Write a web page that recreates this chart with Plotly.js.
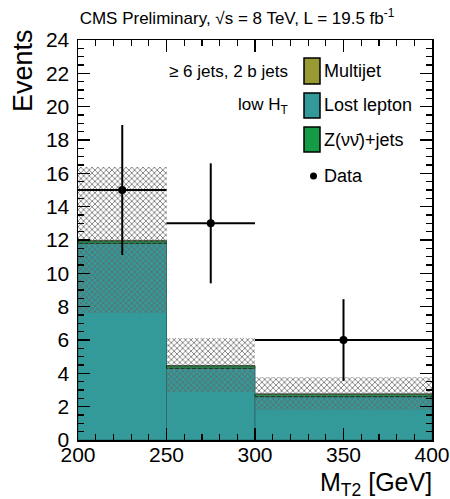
<!DOCTYPE html>
<html>
<head>
<meta charset="utf-8">
<script src="https://cdn.plot.ly/plotly-3.0.1.min.js"></script>
<style>html,body{margin:0;padding:0;background:#fff;}#chart{width:450px;height:499px;}</style>
</head>
<body>
<div id="chart"></div>
<script>
// ---- data ----
const binCenters = [225, 275, 350];
const binWidths = [50, 50, 100];
const lostLepton = [11.8, 4.3, 2.6];
const zinv = [0.15, 0.15, 0.15];
const multijet = [0.03, 0.02, 0.01];
const bandLow = [7.6, 2.9, 1.8];
const bandHigh = [16.4, 6.1, 3.8];
const dataX = [225, 275, 350];
const dataY = [15, 13, 6];
const dataErr = [3.9, 3.6, 2.45];
const dataXErr = [25, 25, 50];

const F = '"Liberation Sans", Arial, Helvetica, sans-serif';

const lostBase = lostLepton.map(() => 0);
const zStart = lostLepton.slice();
const mjStart = lostLepton.map((v, i) => v + zinv[i]);
const bandSize = bandHigh.map((h, i) => h - bandLow[i]);

const traces = [
  {type: 'bar', name: 'Lost lepton', x: binCenters, y: lostLepton, base: lostBase, width: binWidths,
   marker: {color: '#339999', line: {color: '#2a6e6e', width: 1}}, showlegend: false, hoverinfo: 'skip'},
  {type: 'bar', name: 'Z(νν̄)+jets', x: binCenters, y: zinv, base: zStart, width: binWidths,
   marker: {color: '#159a45', line: {color: '#0b3318', width: 1}}, showlegend: false, hoverinfo: 'skip'},
  {type: 'bar', name: 'Multijet', x: binCenters, y: multijet, base: mjStart, width: binWidths,
   marker: {color: '#999933', line: {color: '#333', width: 0.5}}, showlegend: false, hoverinfo: 'skip'},
  {type: 'bar', name: 'Uncertainty', x: binCenters, y: bandSize, base: bandLow, width: binWidths,
   marker: {color: 'rgba(0,0,0,0)', line: {width: 0},
            pattern: {shape: 'x', size: 4, solidity: 0.35, fgcolor: '#666', bgcolor: 'rgba(0,0,0,0)'}},
   showlegend: false, hoverinfo: 'skip'},
  {type: 'scatter', mode: 'markers', name: 'Data', x: dataX, y: dataY,
   marker: {color: '#000', size: 8},
   error_y: {type: 'data', array: dataErr, color: '#000', thickness: 2, width: 0},
   error_x: {type: 'data', array: dataXErr, color: '#000', thickness: 2, width: 0},
   showlegend: false}
];

// plot area in pixels: x 78..432, y 40..440
const PL = 78, PR = 432, PT = 40, PB = 440;
const px = (x) => (x - PL) / (PR - PL);
const py = (y) => (PB - y) / (PB - PT);

const legendItems = [
  {label: 'Multijet', color: '#999933', y0: 58, y1: 84},
  {label: 'Lost lepton', color: '#339999', y0: 93, y1: 118},
  {label: 'Z(νν̄)+jets', color: '#159a45', y0: 127, y1: 152}
];

const shapes = legendItems.map(it => ({
  type: 'rect', xref: 'paper', yref: 'paper',
  x0: px(304), x1: px(320), y0: py(it.y1), y1: py(it.y0),
  fillcolor: it.color, line: {color: '#000', width: 1.5}
}));
shapes.push({type: 'circle', xref: 'paper', yref: 'paper',
  x0: px(310), x1: px(317), y0: py(179.5), y1: py(172.5), fillcolor: '#000', line: {color: '#000', width: 0}});

const annotations = [];
legendItems.forEach(it => annotations.push({
  xref: 'paper', yref: 'paper', x: px(322), y: py((it.y0 + it.y1) / 2),
  xanchor: 'left', yanchor: 'middle', text: it.label, showarrow: false,
  font: {family: F, size: 18, color: '#000'}
}));
annotations.push({xref: 'paper', yref: 'paper', x: px(322), y: py(176), xanchor: 'left', yanchor: 'middle',
  text: 'Data', showarrow: false, font: {family: F, size: 18, color: '#000'}});
annotations.push({xref: 'paper', yref: 'paper', x: px(290), y: py(71), xanchor: 'right', yanchor: 'middle',
  text: '≥ 6 jets, 2 b jets', showarrow: false, font: {family: F, size: 17, color: '#000'}});
annotations.push({xref: 'paper', yref: 'paper', x: px(290), y: py(106), xanchor: 'right', yanchor: 'middle',
  text: 'low H<sub>T</sub>', showarrow: false, font: {family: F, size: 17, color: '#000'}});
annotations.push({xref: 'paper', yref: 'paper', x: px(434), y: py(484), xanchor: 'right', yanchor: 'middle',
  text: 'M<sub>T2</sub> [GeV]', showarrow: false, font: {family: F, size: 25, color: '#000'}});
annotations.push({xref: 'paper', yref: 'paper', x: px(23), y: py(70), xanchor: 'center', yanchor: 'middle',
  text: 'Events', textangle: -90, showarrow: false, font: {family: F, size: 27, color: '#000'}});

const layout = {
  width: 450, height: 499,
  margin: {l: PL, r: 450 - PR, t: PT, b: 499 - PB},
  paper_bgcolor: '#fff', plot_bgcolor: '#fff',
  barmode: 'overlay', bargap: 0,
  showlegend: false,
  title: {text: 'CMS Preliminary, √s = 8 TeV, L = 19.5 fb<sup>-1</sup>',
          font: {family: F, size: 17, color: '#000'},
          x: 237 / 450, xanchor: 'center', xref: 'container', y: 1 - 18 / 499, yanchor: 'middle', yref: 'container'},
  xaxis: {range: [200, 400], tickmode: 'linear', tick0: 200, dtick: 50,
          ticks: 'inside', ticklen: 12, tickwidth: 1.2, tickcolor: '#000',
          minor: {dtick: 10, tick0: 200, ticks: 'inside', ticklen: 6, tickwidth: 1.2, tickcolor: '#000', showgrid: false},
          showline: true, linecolor: '#000', linewidth: 1.5, mirror: 'allticks',
          showgrid: false, zeroline: false, layer: 'above traces', ticklabelstandoff: -5,
          tickfont: {family: F, size: 21, color: '#000'}},
  yaxis: {range: [0, 24], tickmode: 'linear', tick0: 0, dtick: 2,
          ticks: 'inside', ticklen: 12, tickwidth: 1.2, tickcolor: '#000',
          minor: {dtick: 0.5, tick0: 0, ticks: 'inside', ticklen: 6, tickwidth: 1.2, tickcolor: '#000', showgrid: false},
          showline: true, linecolor: '#000', linewidth: 1.5, mirror: 'allticks',
          showgrid: false, zeroline: false, layer: 'above traces', ticklabelstandoff: 3,
          tickfont: {family: F, size: 21, color: '#000'}},
  shapes: shapes,
  annotations: annotations
};

Plotly.newPlot('chart', traces, layout, {displayModeBar: false, staticPlot: true});
</script>
</body>
</html>
